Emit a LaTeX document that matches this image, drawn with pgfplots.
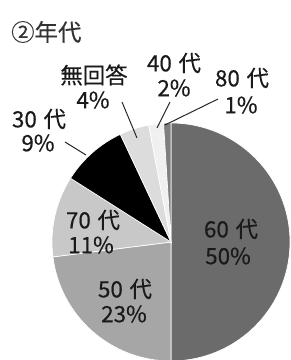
\documentclass[border=0pt]{standalone}
\usepackage{pgfplots}
\pgfplotsset{compat=1.18}
\usepackage{fontspec}
\setmainfont{Noto Sans CJK JP}
\newfontfamily\cjk[FakeBold=0.4]{Noto Sans CJK JP}
\definecolor{c60}{HTML}{6B6B6B}
\definecolor{c50}{HTML}{A6A6A6}
\definecolor{c70}{HTML}{C8C8C8}
\definecolor{c30}{HTML}{000000}
\definecolor{cna}{HTML}{DCDCDC}
\definecolor{c40}{HTML}{F0F0F0}
\definecolor{c80}{HTML}{7E7E7E}
\definecolor{ctxt}{HTML}{1A1A1A}
% shares (percent), clockwise from 12 o'clock
\def\pA{50}\def\pB{23}\def\pC{11}\def\pD{9}\def\pE{4}\def\pF{2}\def\pG{1}
\newcommand{\slice}[3]{%
  \fill[fill=#3, draw=white, line width=0.7pt] (axis cs:171,118) -- ++(#1:119bp)
    arc[start angle=#1, delta angle={-3.6*#2}, radius=119bp] -- cycle;}
\begin{document}
\begin{tikzpicture}
\useasboundingbox (0,0) rectangle (291bp,360bp);
\pgfmathsetmacro\sA{90}
\pgfmathsetmacro\sB{\sA-3.6*\pA}
\pgfmathsetmacro\sC{\sB-3.6*\pB}
\pgfmathsetmacro\sD{\sC-3.6*\pC}
\pgfmathsetmacro\sE{\sD-3.6*\pD}
\pgfmathsetmacro\sF{\sE-3.6*\pE}
\pgfmathsetmacro\sG{\sF-3.6*\pF}
\begin{axis}[
  x=1bp, y=1bp, xmin=0, xmax=291, ymin=0, ymax=360,
  hide axis, clip=true, anchor=origin, at={(0,0)},
]
\slice{\sA}{\pA}{c60}
\slice{\sB}{\pB}{c50}
\slice{\sC}{\pC}{c70}
\slice{\sD}{\pD}{c30}
\slice{\sE}{\pE}{cna}
\slice{\sF}{\pF}{c40}
\slice{\sG}{\pG}{c80}
% leader lines
\draw[color=black!85, line width=1pt] (axis cs:65,218) -- (axis cs:86,205);
\draw[color=black!85, line width=1pt] (axis cs:122,258) -- (axis cs:137,222);
\draw[color=black!85, line width=1pt] (axis cs:170,258) -- (axis cs:157,232);
\draw[color=black!85, line width=1pt] (axis cs:218,261) -- (axis cs:165,235);
% title
\node[anchor=west, inner sep=0, text=black!80, font=\cjk\fontsize{23.5}{27}\selectfont] at (axis cs:11,328) {②年代};
% labels
\begin{scope}[every node/.style={inner sep=0, text=ctxt, font=\cjk\fontsize{22.5}{26}\selectfont}]
\node at (axis cs:174,297) {40\hspace{0.3em}代};
\node at (axis cs:174,272) {\pF\%};
\node at (axis cs:242,282) {80\hspace{0.3em}代};
\node at (axis cs:241,255) {\pG\%};
\node at (axis cs:94,285) {無回答};
\node at (axis cs:93,260) {\pE\%};
\node at (axis cs:39,241) {30\hspace{0.3em}代};
\node at (axis cs:38,217) {\pD\%};
\node at (axis cs:93,140) {70\hspace{0.3em}代};
\node at (axis cs:91,115) {\pC\%};
\node at (axis cs:231,131) {60\hspace{0.3em}代};
\node at (axis cs:228,104) {\pA\%};
\node at (axis cs:125,71) {50\hspace{0.3em}代};
\node at (axis cs:124,46) {\pB\%};
\end{scope}
\end{axis}
\end{tikzpicture}
\end{document}
